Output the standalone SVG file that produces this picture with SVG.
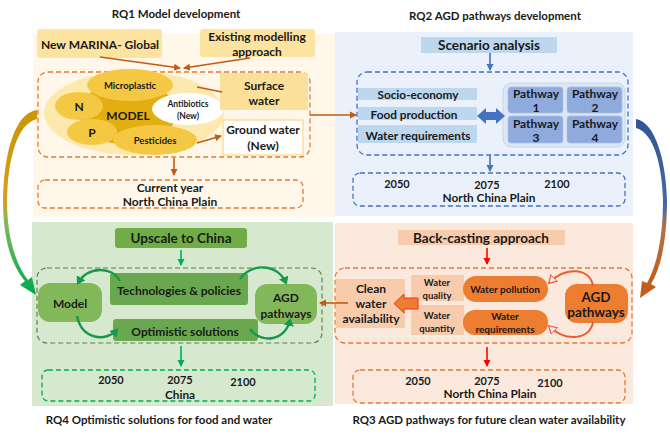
<svg xmlns="http://www.w3.org/2000/svg" width="670" height="436" viewBox="0 0 670 436">
<defs>
<style>
text{font-family:Lato,"Open Sans","Liberation Sans",sans-serif;font-weight:700;fill:#1a1a1a;text-anchor:middle;dominant-baseline:central}
.t{font-size:11.5px}
.b12{font-size:12px}
.b13{font-size:13.5px}
.s9{font-size:9.5px}
.s8{font-size:8.5px}
.y{font-size:11px}
.dr{font-size:11.8px}
.dO{fill:none;stroke:#E07B39;stroke-width:1.3;stroke-dasharray:5 3}
.dB{fill:none;stroke:#4472C4;stroke-width:1.3;stroke-dasharray:5 3}
.dG{fill:none;stroke:#5F7F50;stroke-width:1.2;stroke-dasharray:5 3}
.dGG{fill:none;stroke:#00B050;stroke-width:1.3;stroke-dasharray:5 3}
.lo{fill:none;stroke:#C55A11;stroke-width:1.6}
.lb{fill:none;stroke:#4472C4;stroke-width:1.6}
.lg{fill:none;stroke:#00B050;stroke-width:1.6}
.lr{fill:none;stroke:#FF0000;stroke-width:1.6}
.cg{fill:none;stroke:#159A4A;stroke-width:2.4}
.cr{fill:none;stroke:#EE5A32;stroke-width:2}
</style>
<marker id="mO" markerWidth="8" markerHeight="8" refX="6" refY="4" orient="auto" markerUnits="userSpaceOnUse"><path d="M0,0.5 L7,4 L0,7.5 Z" fill="#C55A11"/></marker>
<marker id="mB" markerWidth="8" markerHeight="8" refX="6" refY="4" orient="auto" markerUnits="userSpaceOnUse"><path d="M0,0.5 L7,4 L0,7.5 Z" fill="#4472C4"/></marker>
<marker id="mG" markerWidth="8" markerHeight="8" refX="6" refY="4" orient="auto" markerUnits="userSpaceOnUse"><path d="M0,0.5 L7,4 L0,7.5 Z" fill="#00B050"/></marker>
<marker id="mR" markerWidth="8" markerHeight="8" refX="6" refY="4" orient="auto" markerUnits="userSpaceOnUse"><path d="M0,0.5 L7,4 L0,7.5 Z" fill="#FF0000"/></marker>
<marker id="mCG" markerWidth="10" markerHeight="10" refX="6" refY="5" orient="auto" markerUnits="userSpaceOnUse"><path d="M0,0 L8,5 L0,10 Z" fill="#159A4A"/></marker>
<marker id="mCR" markerWidth="10" markerHeight="10" refX="6" refY="5" orient="auto" markerUnits="userSpaceOnUse"><path d="M0,0.5 L8,5 L0,9.5 Z" fill="#FBE5D6" stroke="#EE3A2A" stroke-width="1"/></marker>
<linearGradient id="gL" x1="0" y1="105" x2="0" y2="295" gradientUnits="userSpaceOnUse"><stop offset="0" stop-color="#C99400"/><stop offset="0.5" stop-color="#D8A020"/><stop offset="0.62" stop-color="#7DBB5A"/><stop offset="1" stop-color="#00A850"/></linearGradient>
<linearGradient id="gR" x1="0" y1="118" x2="0" y2="298" gradientUnits="userSpaceOnUse"><stop offset="0" stop-color="#2F5597"/><stop offset="0.5" stop-color="#4A6AA0"/><stop offset="0.6" stop-color="#B07048"/><stop offset="1" stop-color="#C55A11"/></linearGradient>
</defs>

<rect width="670" height="436" fill="#ffffff"/>

<!-- panels -->
<g id="panels">
<rect x="33" y="34" width="302" height="183" fill="#FFF8EA"/>
<rect x="335" y="32" width="298" height="184" fill="#EAF1FA"/>
<rect x="32" y="222" width="301" height="184" fill="#D6E9CF"/>
<rect x="335" y="223" width="298" height="181" fill="#FCE9DD"/>
</g>

<!-- titles -->
<g id="titles">
<text class="t" x="176" y="13">RQ1 Model development</text>
<text class="t" x="495" y="15">RQ2 AGD pathways development</text>
<text class="t" x="159" y="419">RQ4 Optimistic solutions for food and water</text>
<text class="t" x="489" y="419">RQ3 AGD pathways for future clean water availability</text>
</g>

<!-- RQ1 -->
<g id="marina">
<rect x="37" y="29" width="125" height="29" rx="3" fill="#FCE3A0"/>
<text class="b12" x="100" y="44">New MARINA- Global</text>
</g>
<g id="existing">
<rect x="200" y="29" width="115" height="28" rx="3" fill="#FCE3A0"/>
<text class="b12" x="257" y="36">Existing modelling</text>
<text class="b12" x="257" y="51">approach</text>
</g>
<rect x="38" y="72" width="272" height="85" rx="10" class="dO"/>
<g id="model">
<ellipse cx="134" cy="113" rx="90" ry="42" fill="#FDE9AE"/>
<ellipse cx="128" cy="113" rx="48" ry="32" fill="#E3AE12"/>
<ellipse cx="130" cy="85" rx="43" ry="16" fill="#F5C844"/>
<ellipse cx="79" cy="106" rx="24" ry="14" fill="#F5C844"/>
<ellipse cx="92" cy="132" rx="25" ry="13" fill="#F5C844"/>
<ellipse cx="155" cy="140" rx="42" ry="15" fill="#F5C844"/>
<ellipse cx="188" cy="109" rx="36" ry="16" fill="#ffffff"/>
<text class="s9" x="130" y="85">Microplastic</text>
<text class="b12" x="79" y="106">N</text>
<text class="b12" x="92" y="132">P</text>
<text class="b12" x="128" y="115">MODEL</text>
<text class="s9" x="155" y="140">Pesticides</text>
<text class="s8" x="188" y="104">Antibiotics</text>
<text class="s8" x="188" y="116">(New)</text>
</g>
<g id="surface">
<rect x="220" y="73" width="88" height="37" fill="#FCE09A"/>
<text class="b12" x="264" y="85">Surface</text>
<text class="b12" x="264" y="100">water</text>
</g>
<g id="ground">
<rect x="223" y="120" width="80" height="35" fill="#ffffff" stroke="#FCE09A" stroke-width="1.5"/>
<text class="b12" x="263" y="129">Ground water</text>
<text class="b12" x="263" y="145">(New)</text>
</g>
<g id="current">
<rect x="38" y="180" width="265" height="28" rx="7" class="dO"/>
<text class="b12" x="170" y="187">Current year</text>
<text class="b12" x="170" y="201">North China Plain</text>
</g>

<!-- RQ2 -->
<g id="scenario">
<rect x="421" y="37" width="136" height="16" fill="#BDD7EE"/>
<text class="b13" x="489" y="45">Scenario analysis</text>
</g>
<rect x="357" y="72" width="271" height="83" rx="10" class="dB"/>
<g id="drivers">
<rect x="358" y="88" width="119" height="12" fill="#BDD7EE"/>
<text class="dr" x="418" y="94">Socio-economy</text>
<rect x="358" y="107" width="119" height="13" fill="#BDD7EE"/>
<text class="dr" x="414" y="114">Food production</text>
<rect x="358" y="125" width="119" height="18" fill="#BDD7EE"/>
<text class="dr" x="418" y="135">Water requirements</text>
</g>
<g id="pathways">
<rect x="503" y="83" width="122" height="64" rx="8" fill="#DCE6F4" stroke="#C5D6EE" stroke-width="1"/>
<rect x="508" y="87" width="55" height="26" rx="3" fill="#8FAADC" stroke="#A9BFE6" stroke-width="0.8"/>
<rect x="567" y="87" width="55" height="26" rx="3" fill="#8FAADC" stroke="#A9BFE6" stroke-width="0.8"/>
<rect x="508" y="116" width="55" height="27" rx="3" fill="#8FAADC" stroke="#A9BFE6" stroke-width="0.8"/>
<rect x="567" y="116" width="55" height="27" rx="3" fill="#8FAADC" stroke="#A9BFE6" stroke-width="0.8"/>
<text class="b12" x="536" y="93">Pathway</text><text class="b12" x="536" y="107">1</text>
<text class="b12" x="595" y="93">Pathway</text><text class="b12" x="595" y="107">2</text>
<text class="b12" x="536" y="123">Pathway</text><text class="b12" x="536" y="137">3</text>
<text class="b12" x="595" y="123">Pathway</text><text class="b12" x="595" y="137">4</text>
</g>
<g id="future-ncp">
<rect x="353" y="173" width="272" height="33" rx="7" class="dB"/>
<text class="y" x="397" y="183">2050</text>
<text class="y" x="487" y="184">2075</text>
<text class="y" x="557" y="183">2100</text>
<text class="dr" x="489" y="197">North China Plain</text>
</g>

<!-- RQ4 -->
<g id="upscale">
<rect x="115" y="228" width="132" height="20" rx="3" fill="#70AD47"/>
<text class="b13" x="181" y="238">Upscale to China</text>
</g>
<rect x="37" y="268" width="285" height="75" rx="10" class="dG"/>
<g id="model-g">
<rect x="38" y="283" width="64" height="39" rx="12" fill="#82B85A"/>
<text class="b12" x="70" y="303">Model</text>
</g>
<g id="tech">
<rect x="110" y="273" width="138" height="32" rx="3" fill="#6AA84F"/>
<text class="b12" x="179" y="290">Technologies &amp; policies</text>
</g>
<g id="optim">
<rect x="113" y="319" width="145" height="22" rx="3" fill="#6AA84F"/>
<text class="b12" x="185" y="331">Optimistic solutions</text>
</g>
<g id="agd-g">
<rect x="255" y="284" width="62" height="40" rx="12" fill="#82B85A"/>
<text class="b12" x="286" y="297">AGD</text>
<text class="b12" x="286" y="313">pathways</text>
</g>
<g id="china">
<rect x="42" y="370" width="273" height="31" rx="6" class="dGG"/>
<text class="y" x="111" y="379">2050</text>
<text class="y" x="180" y="379">2075</text>
<text class="y" x="243" y="381">2100</text>
<text class="dr" x="180" y="394">China</text>
</g>

<!-- RQ3 -->
<g id="backcast">
<rect x="398" y="230" width="167" height="15" fill="#F8CBAD"/>
<text class="b13" x="481" y="238">Back-casting approach</text>
</g>
<rect x="335" y="268" width="297" height="75" rx="10" class="dO"/>
<g id="clean">
<rect x="336" y="279" width="69" height="49" fill="#F8CBAD"/>
<text class="b12" x="371" y="288">Clean</text>
<text class="b12" x="371" y="303">water</text>
<text class="b12" x="371" y="318">availability</text>
</g>
<g id="quality">
<rect x="411" y="275" width="53" height="26" fill="#F8CBAD"/>
<text class="s9" x="437" y="282">Water</text>
<text class="s9" x="437" y="295">quality</text>
</g>
<g id="quantity">
<rect x="411" y="305" width="53" height="30" fill="#F8CBAD"/>
<text class="s9" x="437" y="315">Water</text>
<text class="s9" x="437" y="328">quantity</text>
</g>
<g id="pollution">
<rect x="463" y="276" width="85" height="26" rx="13" fill="#ED7D31"/>
<text class="s9" x="505" y="289" style="font-size:10px">Water pollution</text>
</g>
<g id="wreq">
<rect x="463" y="310" width="85" height="25" rx="12" fill="#ED7D31"/>
<text class="s9" x="505" y="316" style="font-size:10px">Water</text>
<text class="s9" x="505" y="329" style="font-size:10px">requirements</text>
</g>
<g id="agd-o">
<rect x="565" y="284" width="63" height="39" rx="12" fill="#ED7D31"/>
<text class="b13" x="596" y="297">AGD</text>
<text class="b13" x="596" y="312">pathways</text>
</g>
<g id="future-ncp2">
<rect x="353" y="370" width="272" height="33" rx="7" class="dO"/>
<text class="y" x="418" y="380">2050</text>
<text class="y" x="487" y="380">2075</text>
<text class="y" x="550" y="382">2100</text>
<text class="dr" x="490" y="393">North China Plain</text>
</g>

<!-- connectors -->
<g id="connectors">
<line x1="100" y1="57" x2="180" y2="68" class="lo" marker-end="url(#mO)"/>
<line x1="250" y1="58" x2="184" y2="68" class="lo" marker-end="url(#mO)"/>
<line x1="197" y1="87" x2="222" y2="92" class="lo"/>
<line x1="197" y1="143" x2="221" y2="136" class="lo" marker-end="url(#mO)"/>
<line x1="174" y1="158" x2="174" y2="175" class="lo" marker-end="url(#mO)"/>
<line x1="310" y1="115" x2="356" y2="115" class="lo" marker-end="url(#mO)"/>
<line x1="490" y1="53" x2="490" y2="70" class="lb" marker-end="url(#mB)"/>
<line x1="490" y1="155" x2="490" y2="171" class="lb" marker-end="url(#mB)"/>
<path d="M477,116 L486,108 L486,112 L496,112 L496,108 L505,116 L496,124 L496,120 L486,120 L486,124 Z" fill="#4472C4"/>
<line x1="181" y1="250" x2="181" y2="265" class="lg" marker-end="url(#mG)"/>
<line x1="181" y1="346" x2="181" y2="366" class="lg" marker-end="url(#mG)"/>
<path d="M120,281 C112,266 88,266 78,283" class="cg" marker-end="url(#mCG)"/>
<path d="M77,316 C82,340 106,342 117,330" class="cg" marker-end="url(#mCG)"/>
<path d="M240,279 C252,262 278,264 286,283" class="cg" marker-end="url(#mCG)"/>
<path d="M250,329 C262,345 286,340 290,320" class="cg" marker-end="url(#mCG)"/>
<line x1="487" y1="248" x2="487" y2="264" class="lr" marker-end="url(#mR)"/>
<line x1="487" y1="347" x2="487" y2="366" class="lr" marker-end="url(#mR)"/>
<path d="M418,298 L404,298 L404,294 L394,303.5 L404,313 L404,309 L418,309 Z" fill="#ED7D31" stroke="#FF2A1A" stroke-width="1"/>
<path d="M593,286 C590,268 566,266 550,282" class="cr" marker-end="url(#mCR)"/>
<path d="M593,322 C590,340 566,342 550,327" class="cr" marker-end="url(#mCR)"/>
<line x1="348" y1="303" x2="320" y2="303" class="lo" marker-end="url(#mO)"/>
<path d="M37,110 C15,113 4,152 3,200 C3,240 12,266 25,281 L20,285 L36,295 L32,277 L28,280 C17,266 7,240 7,200 C8,158 17,124 37,119 Z" fill="url(#gL)"/>
<path d="M636,119 C655,122 666,160 667,200 C667,240 661,268 651,284 L656,287 L640,298 L642,281 L647,283 C656,267 663,240 663,200 C662,165 654,133 636,128 Z" fill="url(#gR)"/>
</g>
</svg>
